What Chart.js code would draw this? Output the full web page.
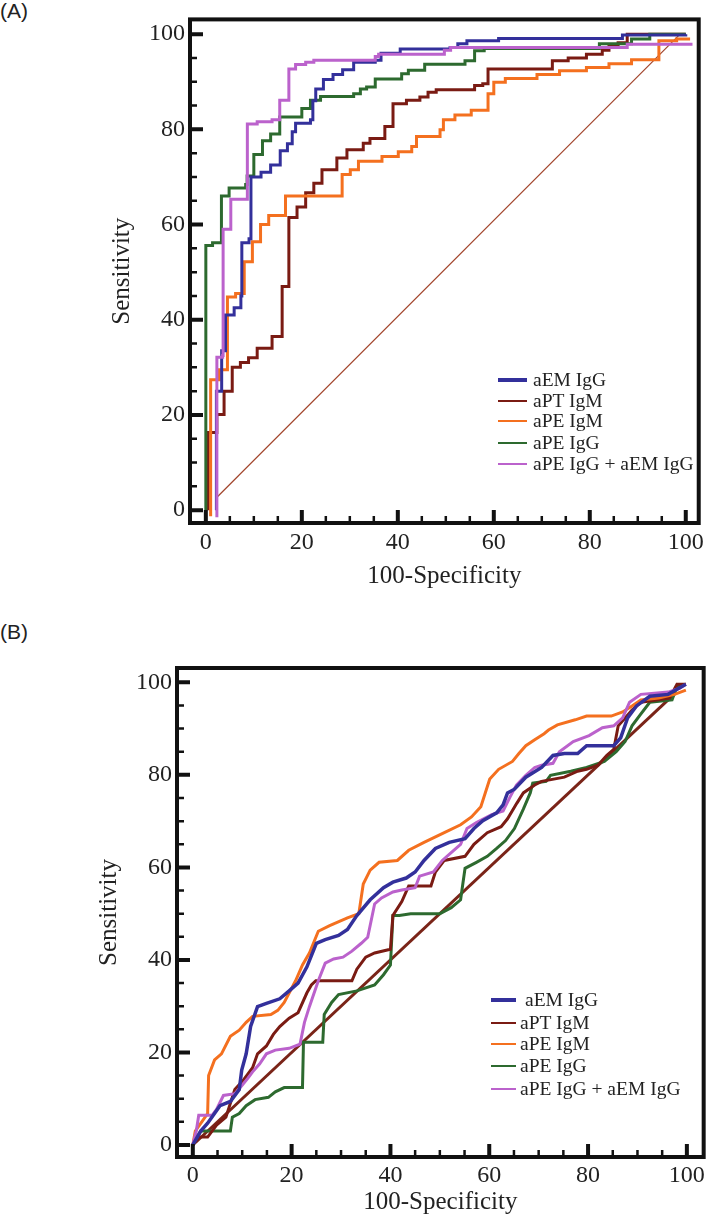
<!DOCTYPE html>
<html>
<head>
<meta charset="utf-8">
<script src="https://cdn.jsdelivr.net/npm/chart.js@4.4.1/dist/chart.umd.min.js"></script>
<style>
  body { margin: 0; width: 709px; height: 1217px; background: #fff; position: relative; overflow: hidden; }
  canvas { position: absolute; left: 0; }
  #chartA { top: 0; }
  #chartB { top: 600px; }
  .tag { position: absolute; left: 0; font: 21px "Liberation Sans", Arial, sans-serif; line-height: 21px; color: #222; }
  .leg { position: absolute; height: 20px; font: 19.5px "Liberation Serif", "Times New Roman", serif; line-height: 20px; color: #222; white-space: nowrap; }
  .leg i { position: absolute; top: 50%; }
  .leg b { position: absolute; top: 0; font-weight: normal; }
</style>
</head>
<body>
<div class="tag" style="top:0">(A)</div>
<div class="tag" style="top:621px">(B)</div>
<canvas id="chartA" width="709" height="600"></canvas>
<canvas id="chartB" width="709" height="617"></canvas>
<div id="legendA"></div>
<div id="legendB"></div>
<script>
// series names and colours (legend order)
const seriesNames = ['aEM IgG', 'aPT IgM', 'aPE IgM', 'aPE IgG', 'aPE IgG + aEM IgG'];
const seriesColors = ['#33309b', '#7a1b13', '#f4701f', '#2d6a2f', '#bb62cc'];
const majorTicks = [0, 20, 40, 60, 80, 100];
const minorTicks = [0, 5, 10, 15, 20, 25, 30, 35, 40, 45, 50, 55, 60, 65, 70, 75, 80, 85, 90, 95, 100];

// ---- panel A: steps, [x, y] = at x the curve rises to y ----
const a_aEM = [[2.2,0],[2.2,25],[3.3,33.5],[4.1,41],[5.9,42.5],[7.3,45],[7.5,56.2],[9.0,57],[9.4,70],[11.5,71],
  [13.5,72.5],[15.5,75.5],[17.0,77],[18.0,79.5],[18.7,81.3],[21.8,82],[22.3,86],[22.9,88.5],[24.5,90.5],[26.5,91.5],
  [28.5,92.5],[30.8,94.1],[35.3,94.5],[36.5,96],[40.5,96.9],[50.9,97.2],[52.5,98],[54.4,98.6],[61,99.1],[86.8,99.8],[100,100]];
const a_aPT = [[0.5,0],[0.5,16.3],[2.3,20.1],[3.8,25],[5.5,30],[7.2,31],[8.9,32],[10.7,34],[13.8,36.5],[15.9,47],
  [17.3,61.5],[19.0,63.7],[20.8,66.7],[22.5,68.7],[24.2,71.5],[27.3,74],[29.4,75.7],[32.8,77.1],[34.2,78.1],[37.3,80.6],
  [39.0,85.4],[41.8,86.1],[44.6,86.8],[46.3,87.8],[48.0,88.3],[56.0,89.2],[57.7,89.6],[58.8,92.7],[72.2,94.4],[75.5,95],
  [79.3,95.8],[82.6,96.6],[84.0,97.4],[85.9,98.2],[87.8,100],[100,100]];
const a_aPEM = [[1.0,-1.3],[1.0,27.4],[2.8,29.5],[4.5,44.8],[6.2,45.5],[8.0,52.2],[9.7,56.4],[11.4,60],[13.1,61.9],
  [16.6,66],[28.4,70.5],[30.1,71.5],[31.8,73.3],[36.7,74.3],[40.1,75.3],[42.9,76.4],[43.9,78.5],[48.8,79.9],[49.5,82],
  [51.9,83],[55.3,84],[58.8,87.5],[60.0,89.9],[62.4,90.7],[69.0,91.5],[73.7,92.3],[79.3,93],[84.0,93.8],[88.7,94.6],
  [94.4,98.6],[98.1,99],[100.9,99]];
const a_aPEG = [[0,0],[0,55.6],[1.4,56.2],[3.25,66],[4.85,67.7],[8.3,68.4],[8.6,70.2],[10.0,74.7],[11.8,77.6],[13.5,79],
  [15.4,82.6],[20.0,84.4],[21.8,86.1],[23.9,86.9],[30.8,87.5],[32.2,88.5],[33.5,88.9],[35.3,90.6],[40.8,91.7],[42.2,92.4],
  [45.6,93.7],[54.0,94.4],[56.0,96.5],[58,97],[82,98],[88.7,99],[92.5,100],[100,100]];
const a_combo = [[2.3,-1.5],[2.3,32.1],[3.5,32.5],[3.6,59],[5.2,65.3],[8.65,81.1],[10.7,81.6],[13.8,82],[15.4,86.1],
  [17.3,92.7],[18.7,93.6],[20.8,94.1],[22.5,94.5],[35.3,95.3],[36,95.8],[49.7,96.6],[51,97.2],[87.8,97.9],[101.4,97.9]];
const a_ref = [[2,2.4],[98.6,99.8]];

// ---- panel B: curve vertices [x, y] ----
const b_aEM = [[0,0],[1.6,3],[3,4.7],[5.5,8.5],[7.6,9.4],[9.4,12],[9.9,16.2],[10.8,19.7],[11.7,25.6],[13.1,29.9],
  [14.9,30.6],[17.6,31.6],[19.5,33.3],[21.3,35],[23.1,38.5],[25,43.6],[26.8,44.4],[29.5,45.3],[31.3,46.6],[33.2,49.6],
  [35.9,53],[38.6,55.6],[40.5,56.8],[43.2,57.7],[45,59],[46.8,61.5],[49.1,64.1],[51.9,65.4],[55.1,66.2],[56.9,68.4],
  [58.7,70.1],[61.5,71.8],[62.8,73.5],[63.7,76.1],[65.1,76.9],[67.4,79.5],[70.6,81.6],[72.9,84.2],[75.2,84.6],[77.9,84.6],
  [79.7,86.3],[85.2,86.3],[86.6,88],[88,92.3],[89.8,94.9],[92.5,97],[96.2,97.4],[99.8,99.6]];
const b_aPT = [[0,0],[1.2,1.7],[3,1.7],[4.8,4.3],[6.7,6],[8.5,12],[10.3,14.1],[12.1,16.7],[13.1,19.7],[14.9,21.4],
  [16.3,23.9],[17.6,25.6],[19.5,27.4],[21.3,28.6],[23.1,32.9],[24,34.6],[24.9,35.5],[32.2,35.5],[33.2,38],[35,40.6],
  [36.8,41.5],[40,42.3],[40.5,49.6],[42.3,52.6],[43.7,56],[48.2,56],[49.1,59],[50.9,61.5],[55.1,62.4],[56.9,65],
  [59.6,67.5],[62.4,68.8],[63.7,70.5],[65.6,73.9],[66.9,76.1],[69.2,77.8],[70.6,78.6],[75.2,79.5],[77.9,80.8],[79.7,81.2],
  [82,82.1],[83.8,84.2],[85.2,85.5],[86.1,90.6],[87.5,92.3],[88.9,94],[90.7,95.7],[96.5,96.6],[98,99.6],[99.8,99.6]];
const b_aPEM = [[0,0],[0.5,3],[3,6.8],[3.2,15],[4.4,18.4],[5.8,19.7],[7.6,23.5],[9.4,24.8],[10.8,26.5],[12.1,27.8],
  [15.8,28.2],[17.2,29.1],[18.5,30.8],[20.8,35.5],[22.2,38.9],[23.6,41.5],[25.4,46.2],[27.7,47.4],[31.3,49.1],[33.6,50],
  [34.5,56.4],[35.9,59.4],[37.7,61.1],[41.4,61.5],[43.7,63.7],[46.8,65.4],[50.9,67.5],[54.2,69.2],[56.4,70.9],[58.3,73.1],
  [60.1,79.1],[61.9,81.2],[64.7,82.9],[66,84.6],[67.4,86.3],[69.2,87.6],[71.1,88.9],[72,89.7],[73.8,90.8],[77.4,91.9],
  [79.7,92.7],[84.7,92.7],[87,93.6],[88.9,94.9],[90.7,96.2],[94.3,96.6],[97.5,97.4],[99.8,98.3]];
const b_aPEG = [[0,0],[1.6,3],[7.6,3],[8,6],[9.4,6.8],[10.8,8.5],[12.6,9.8],[15.3,10.3],[16.7,11.5],[18.5,12.4],
  [22.2,12.4],[22.4,22.2],[26.3,22.2],[26.6,28.2],[28.1,30.8],[29.5,32.5],[33.2,33.3],[36.8,34.6],[38.6,36.8],[40,38.9],
  [40.5,49.6],[41.8,49.6],[44.1,50],[50,50],[52.3,51.3],[54.2,53],[55.1,59.8],[57.4,61.1],[59.6,62.4],[61.5,64.1],
  [63.3,65.8],[65.1,68.4],[66.9,72.6],[68.3,76.1],[68.8,78.2],[71.5,78.6],[72.4,79.9],[76.5,80.8],[79.7,81.6],[83.3,82.9],
  [85.7,85],[87.5,87.2],[88.9,90.6],[90.7,93.2],[92.5,95.7],[97,96.2],[98,99.1],[99.8,99.6]];
const b_combo = [[0,0],[0.7,3],[1.2,6.4],[3.9,6.4],[4.8,7.7],[6.2,10.7],[8.5,11.1],[9.9,12.8],[11.2,14.5],[12.1,15.8],
  [13.5,17.5],[14.9,19.7],[16.7,20.5],[19.5,20.9],[21.7,21.8],[22.6,26.5],[23.6,29.9],[25.4,35.5],[26.8,39.3],[28.5,40.2],
  [30.4,40.6],[32.2,41.9],[34.1,43.6],[35.4,44.9],[36.8,52.1],[38.2,53.4],[40.5,54.7],[42.3,55.1],[45,55.6],[45.9,58.1],
  [48.7,59],[50.5,61.5],[52.3,63.2],[54.2,65],[55.5,68.4],[57.4,69.7],[60.5,71.4],[62.8,72.2],[64.2,75.2],[65.5,77.8],
  [67.4,79.9],[69.2,81.6],[70.6,82.1],[72.9,82.5],[74.2,85],[77,87.2],[80.2,88.5],[82.9,90.2],[85.2,90.6],[87,92.3],
  [88.4,95.7],[90.7,97.4],[96.2,97.9],[98.5,98.7],[99.8,99.6]];
const b_ref = [[0,0],[97.5,97.5]];

const tickFont = { family: '"Liberation Serif", "Times New Roman", serif', size: 24 };
const titleFont = { family: '"Liberation Serif", "Times New Roman", serif', size: 25 };
const ink = '#222';

function stepPts(steps) {
  const out = [{ x: steps[0][0], y: steps[0][1] }];
  for (let i = 1; i < steps.length; i++) {
    out.push({ x: steps[i][0], y: steps[i - 1][1] });
    out.push({ x: steps[i][0], y: steps[i][1] });
  }
  return out;
}
const linePts = arr => arr.map(([x, y]) => ({ x, y }));

function ds(data, color, width) {
  return { data, borderColor: color, backgroundColor: color, borderWidth: width,
           pointRadius: 0, tension: 0, fill: false, borderJoinStyle: 'miter' };
}

// frame and inward tick marks, placed with the chart's own scales
const framePlugin = {
  id: 'frame',
  afterDatasetsDraw(chart) {
    const { ctx, chartArea: a, scales: { x, y } } = chart;
    ctx.save();
    ctx.strokeStyle = '#111';
    minorTicks.forEach(v => {
      const major = v % 20 === 0;
      const len = major ? 13 : 7;
      ctx.lineWidth = major ? 4 : 2.5;
      const px = x.getPixelForValue(v), py = y.getPixelForValue(v);
      ctx.beginPath();
      ctx.moveTo(a.left, py); ctx.lineTo(a.left + len, py);
      ctx.moveTo(px, a.bottom); ctx.lineTo(px, a.bottom - len);
      ctx.stroke();
    });
    ctx.lineWidth = 4;
    ctx.strokeRect(a.left, a.top, a.right - a.left, a.bottom - a.top);
    ctx.restore();
  }
};

function makeChart(id, datasets, cfg) {
  return new Chart(document.getElementById(id), {
    type: 'line',
    data: { datasets },
    options: {
      responsive: false,
      animation: false,
      events: [],
      layout: { padding: cfg.padding },
      plugins: { legend: { display: false }, tooltip: { enabled: false } },
      scales: {
        x: {
          type: 'linear', min: cfg.x[0], max: cfg.x[1],
          grid: { display: false, drawTicks: false }, border: { display: false },
          afterBuildTicks: s => { s.ticks = majorTicks.map(v => ({ value: v })); },
          afterFit: s => { s.height = cfg.xHeight; },
          ticks: { font: tickFont, color: ink, padding: cfg.xTickPad, maxRotation: 0, autoSkip: false },
          title: { display: true, text: '100-Specificity', font: titleFont, color: ink,
                   padding: { top: 0, bottom: cfg.xTitlePad } }
        },
        y: {
          type: 'linear', min: cfg.y[0], max: cfg.y[1],
          grid: { display: false, drawTicks: false }, border: { display: false },
          afterBuildTicks: s => { s.ticks = majorTicks.map(v => ({ value: v })); },
          afterFit: s => { s.width = cfg.yWidth; },
          ticks: { font: tickFont, color: ink, padding: 5, autoSkip: false },
          title: { display: true, text: 'Sensitivity', font: titleFont, color: ink,
                   padding: { top: cfg.yTitlePad, bottom: 0 } }
        }
      }
    },
    plugins: [framePlugin]
  });
}

// first dataset is drawn on top
makeChart('chartA', [
  ds(stepPts(a_combo), seriesColors[4], 3),
  ds(stepPts(a_aEM), seriesColors[0], 3),
  ds(stepPts(a_aPEG), seriesColors[3], 3),
  ds(stepPts(a_aPEM), seriesColors[2], 3),
  ds(stepPts(a_aPT), seriesColors[1], 3),
  ds(linePts(a_ref), '#a2452c', 1.2)
], { padding: { top: 15, right: 9, left: 0, bottom: 0 }, x: [-3.3, 102.7], y: [-2.7, 103.1],
     xHeight: 77, yWidth: 190, xTickPad: 5, xTitlePad: 9, yTitlePad: 107 });

makeChart('chartB', [
  ds(linePts(b_aEM), seriesColors[0], 3.5),
  ds(linePts(b_combo), seriesColors[4], 3),
  ds(linePts(b_aPEM), seriesColors[2], 3),
  ds(linePts(b_aPT), seriesColors[1], 3),
  ds(linePts(b_aPEG), seriesColors[3], 3),
  ds(linePts(b_ref), '#7a2418', 3)
], { padding: { top: 68, right: 4, left: 0, bottom: 0 }, x: [-3.2, 103.4], y: [-2.6, 103.1],
     xHeight: 60, yWidth: 177, xTickPad: 4, xTitlePad: 0, yTitlePad: 94 });

// legends
function buildLegend(id, rows, x0, x1, textX, firstTextX) {
  const box = document.getElementById(id);
  seriesNames.forEach((name, i) => {
    const row = document.createElement('div');
    row.className = 'leg';
    row.style.left = x0 + 'px';
    row.style.top = (rows[i] - 10) + 'px';
    const w = i === 0 ? 3.5 : 1.5;
    const line = document.createElement('i');
    line.style.cssText = `left:0;width:${x1 - x0}px;height:${w}px;margin-top:${-w / 2}px;background:${seriesColors[i]}`;
    const txt = document.createElement('b');
    txt.style.left = ((i === 0 ? firstTextX : textX) - x0) + 'px';
    txt.textContent = name;
    row.appendChild(line);
    row.appendChild(txt);
    box.appendChild(row);
  });
}
buildLegend('legendA', [380, 401, 421, 443, 464], 498, 527, 533, 533);
buildLegend('legendB', [1000, 1023, 1044, 1066, 1089], 491, 516, 520, 525);
</script>
</body>
</html>
